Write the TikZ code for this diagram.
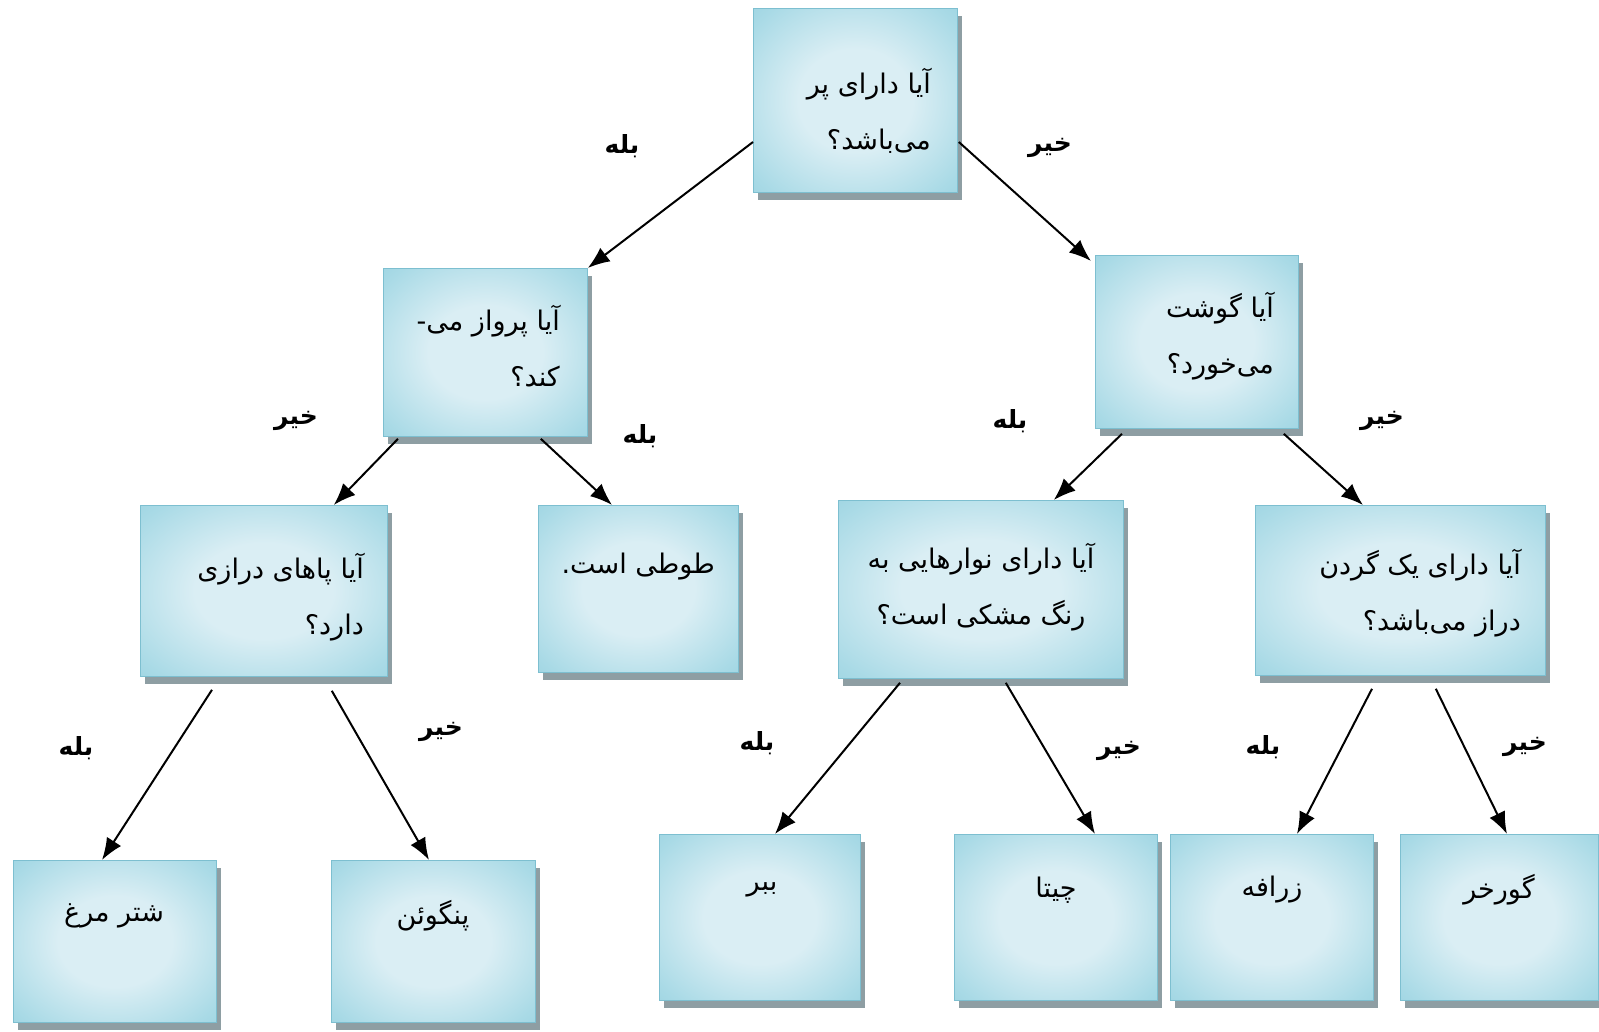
\documentclass[tikz,border=0pt]{standalone}
\usepackage{fontspec}
\usetikzlibrary{arrows.meta,shadows,calc}
\newfontfamily\farsi[Script=Arabic]{DejaVu Sans}
\TeXXeTstate=1
\newcommand{\fa}[1]{\beginR #1\endR}
\definecolor{boxedge}{HTML}{84C7D8}
\definecolor{boxsoft}{HTML}{A9DAE6}
\definecolor{boxmid}{HTML}{DAEEF4}
\definecolor{boxline}{HTML}{7DBFD0}
\definecolor{boxshade}{HTML}{8E9EA3}
\pgfdeclareradialshading{qshade}{\pgfpoint{0bp}{0bp}}{color(0bp)=(boxmid); color(14bp)=(boxmid); color(32bp)=(boxsoft); color(50bp)=(boxedge); color(70bp)=(boxedge)}
\tikzset{
  qbox/.style={draw=boxline,line width=0.8pt,shading=qshade,
    drop shadow={shadow xshift=5pt,shadow yshift=-8pt,fill=boxshade,opacity=1},
    anchor=north west,inner sep=0},
  qtext/.style={font=\farsi\fontsize{27}{56}\selectfont,align=right,inner sep=0},
  ctext/.style={font=\farsi\fontsize{27}{56}\selectfont,align=center,inner sep=0},
  ans/.style={font=\farsi\bfseries\fontsize{25}{27}\selectfont,inner sep=0},
  link/.style={line width=2pt,-{Latex[length=22pt,width=17pt]}}
}
\begin{document}
\begin{tikzpicture}[x=1pt,y=-1pt]
  \fill[white] (0,0) rectangle (1599,1032);
  \useasboundingbox (0,0) rectangle (1599,1032);
  \node[qbox,minimum width=204,minimum height=184] (root) at (753,8) {};
  \node[qbox,minimum width=204,minimum height=168] (fly) at (383,268) {};
  \node[qbox,minimum width=203,minimum height=173] (meat) at (1095,255) {};
  \node[qbox,minimum width=247,minimum height=171] (legs) at (140,505) {};
  \node[qbox,minimum width=200,minimum height=167] (parrot) at (538,505) {};
  \node[qbox,minimum width=285,minimum height=178] (stripes) at (838,500) {};
  \node[qbox,minimum width=290,minimum height=170] (neck) at (1255,505) {};
  \node[qbox,minimum width=203,minimum height=162] (ostrich) at (13,860) {};
  \node[qbox,minimum width=204,minimum height=162] (penguin) at (331,860) {};
  \node[qbox,minimum width=201,minimum height=166] (tiger) at (659,834) {};
  \node[qbox,minimum width=203,minimum height=166] (cheetah) at (954,834) {};
  \node[qbox,minimum width=203,minimum height=166] (giraffe) at (1170,834) {};
  \node[qbox,minimum width=198,minimum height=166] (zebra) at (1400,834) {};

  \node[qtext,anchor=north east] (root-q) at (931,68) {\fa{آیا دارای پر}\\\fa{می^^^^200cباشد؟}};
  \node[qtext,anchor=north east] (fly-q) at (560,305) {\fa{آیا پرواز می-}\\\fa{کند؟}};
  \node[qtext,anchor=north east] (meat-q) at (1274,292) {\fa{آیا گوشت}\\\fa{می^^^^200cخورد؟}};
  \node[qtext,anchor=north east] (legs-q) at (364,553) {\fa{آیا پاهای درازی}\\\fa{دارد؟}};
  \node[qtext,anchor=north east] (parrot-q) at (715,553) {\fa{طوطی است.}};
  \node[ctext,anchor=north] (stripes-q) at (981,543) {\fa{آیا دارای نوارهایی به}\\\fa{رنگ مشکی است؟}};
  \node[qtext,anchor=north east] (neck-q) at (1521,549) {\fa{آیا دارای یک گردن}\\\fa{دراز می^^^^200cباشد؟}};
  \node[ctext] (ostrich-q) at (114,916) {\fa{شتر مرغ}};
  \node[ctext] (penguin-q) at (433,916) {\fa{پنگوئن}};
  \node[ctext] (tiger-q) at (762,890) {\fa{ببر}};
  \node[ctext] (cheetah-q) at (1056,890) {\fa{چیتا}};
  \node[ctext] (giraffe-q) at (1272,890) {\fa{زرافه}};
  \node[ctext] (zebra-q) at (1499,890) {\fa{گورخر}};

  \node[ans] (root-yes) at (622,146) {\fa{بله}};
  \node[ans] (root-no) at (1050,148) {\fa{خیر}};
  \node[ans] (fly-no) at (296,421) {\fa{خیر}};
  \node[ans] (fly-yes) at (640,436) {\fa{بله}};
  \node[ans] (meat-yes) at (1010,421) {\fa{بله}};
  \node[ans] (meat-no) at (1382,421) {\fa{خیر}};
  \node[ans] (legs-yes) at (76,748) {\fa{بله}};
  \node[ans] (legs-no) at (441,732) {\fa{خیر}};
  \node[ans] (stripes-yes) at (757,743) {\fa{بله}};
  \node[ans] (stripes-no) at (1119,751) {\fa{خیر}};
  \node[ans] (neck-yes) at (1263,747) {\fa{بله}};
  \node[ans] (neck-no) at (1525,747) {\fa{خیر}};

  \draw[link] ($(root.north west)+(0,134)$) -- (fly.north east);
  \draw[link] ($(root.north east)+(1,134)$) -- ($(meat.north west)+(-4,6)$);
  \draw[link] ($(fly.south west)+(15,2)$) -- ($(legs.north east)+(-54,0)$);
  \draw[link] ($(fly.south east)+(-47,2)$) -- ($(parrot.north west)+(74,0)$);
  \draw[link] ($(meat.south west)+(27,5)$) -- ($(stripes.north east)+(-70,0)$);
  \draw[link] ($(meat.south east)+(-15,5)$) -- ($(neck.north west)+(108,0)$);
  \draw[link] ($(legs.south west)+(72,13)$) -- ($(ostrich.north west)+(89,0)$);
  \draw[link] ($(legs.south east)+(-56,14)$) -- ($(penguin.north west)+(98,0)$);
  \draw[link] ($(stripes.south west)+(62,4)$) -- ($(tiger.north west)+(116,0)$);
  \draw[link] ($(stripes.south east)+(-118,4)$) -- ($(cheetah.north west)+(141,0)$);
  \draw[link] ($(neck.south west)+(117,13)$) -- ($(giraffe.north west)+(127,0)$);
  \draw[link] ($(neck.south east)+(-110,13)$) -- ($(zebra.north west)+(107,0)$);
\end{tikzpicture}
\end{document}
